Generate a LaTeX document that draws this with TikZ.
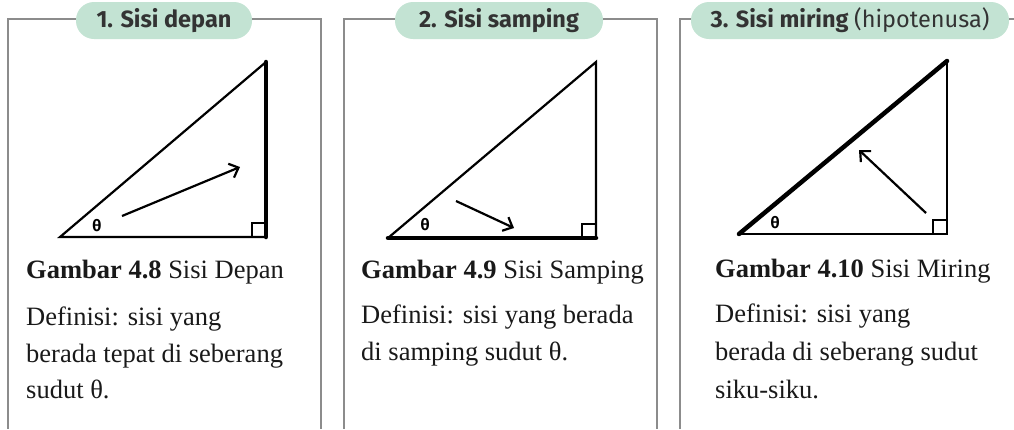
\documentclass[tikz,border=0pt]{standalone}
\usepackage{fontspec}
\setmainfont{Liberation Serif}
\newfontfamily\labelfont{Fira Sans}
\usetikzlibrary{arrows.meta}
\definecolor{pillgreen}{HTML}{C3E3D3}
\definecolor{framegray}{HTML}{8C8C8C}
\definecolor{labeltext}{HTML}{333333}
\tikzset{
  frameline/.style={draw=framegray, line width=1.5pt},
  pill/.style={fill=pillgreen, rounded corners=18pt, minimum height=37pt, inner sep=0pt, text=labeltext, font=\labelfont\bfseries\fontsize{23.5}{26}\selectfont},
  side/.style={line width=2.2pt, line join=miter},
  thickside/.style={line width=4.5pt, line cap=round},
  pointer/.style={line width=2.2pt, -{Straight Barb[length=8pt,width=15pt,line width=2.2pt]}},
  angle/.style={font=\labelfont\bfseries\fontsize{16}{16}\selectfont, inner sep=0pt},
  capline/.style={anchor=base west, inner sep=0pt, font=\fontsize{26.5}{30}\selectfont, text=black!90},
  sqr/.style={line width=1.6pt}
}
\begin{document}
\begin{tikzpicture}[x=1pt,y=-1pt]
\useasboundingbox (0,0) rectangle (1014,429);
% ---------- Panel 1 ----------
\node[pill, minimum width=176pt] (p1) at (164,20.5) {1. Sisi depan};
\coordinate (f1tl) at (8,19);
\coordinate (f1bl) at (8,429);
\coordinate (f1tr) at (321,19);
\coordinate (f1br) at (321,429);
\draw[frameline] (p1.west |- f1tl) -- (f1tl) -- (f1bl);
\draw[frameline] (p1.east |- f1tr) -- (f1tr) -- (f1br);
\coordinate (a1) at (60,237);
\coordinate (b1) at (266,237);
\coordinate (c1) at (266,62);
\draw[side] (b1) -- (a1) -- (c1);
\draw[thickside] (b1) -- (c1);
\draw[sqr] (252,237) -- (252,223) -- (266,223);
\node[angle] (t1) at (97,226) {θ};
\coordinate (s1) at (122,216);
\coordinate (e1) at (240,167);
\draw[pointer] (s1) -- (e1);
\node[capline] (g1) at (26,278) {\textbf{Gambar 4.8} Sisi Depan};
\node[capline] (d1a) at (26,325) {Definisi: sisi yang};
\node[capline] (d1b) at (26,362) {berada tepat di seberang};
\node[capline] (d1c) at (26,398) {sudut θ.};
% ---------- Panel 2 ----------
\node[pill, minimum width=208pt] (p2) at (499,20.5) {2. Sisi samping};
\coordinate (f2tl) at (344,19);
\coordinate (f2bl) at (344,429);
\coordinate (f2tr) at (657,19);
\coordinate (f2br) at (657,429);
\draw[frameline] (p2.west |- f2tl) -- (f2tl) -- (f2bl);
\draw[frameline] (p2.east |- f2tr) -- (f2tr) -- (f2br);
\coordinate (a2) at (388,238);
\coordinate (b2) at (596,238);
\coordinate (c2) at (596,62);
\draw[side] (a2) -- (c2) -- (b2);
\draw[thickside] (a2) -- (b2);
\draw[sqr] (582,238) -- (582,224) -- (596,224);
\node[angle] (t2) at (425,225) {θ};
\coordinate (s2) at (456,201);
\coordinate (e2) at (514,228);
\draw[pointer] (s2) -- (e2);
\node[capline] (g2) at (361,278) {\textbf{Gambar 4.9} Sisi Samping};
\node[capline] (d2a) at (361,323) {Definisi: sisi yang berada};
\node[capline] (d2b) at (361,360) {di samping sudut θ.};
% ---------- Panel 3 ----------
\node[pill, minimum width=318pt] (p3) at (850,20.5) {3. Sisi miring {\mdseries(hipotenusa)}};
\coordinate (f3tl) at (680,19);
\coordinate (f3bl) at (680,429);
\coordinate (f3tr) at (1014,19);
\draw[frameline] (p3.west |- f3tl) -- (f3tl) -- (f3bl);
\draw[frameline] (p3.east |- f3tr) -- (f3tr);
\coordinate (a3) at (739,234);
\coordinate (b3) at (947,234);
\coordinate (c3) at (947,61);
\draw[side] (a3) -- (b3) -- (c3);
\draw[thickside] (a3) -- (c3);
\draw[sqr] (933,234) -- (933,220) -- (947,220);
\node[angle] (t3) at (775,223) {θ};
\coordinate (s3) at (926,213);
\coordinate (e3) at (859,150);
\draw[pointer] (s3) -- (e3);
\node[capline] (g3) at (715,277) {\textbf{Gambar 4.10} Sisi Miring};
\node[capline] (d3a) at (715,322) {Definisi: sisi yang};
\node[capline] (d3b) at (715,360) {berada di seberang sudut};
\node[capline] (d3c) at (715,398) {siku-siku.};
\end{tikzpicture}
\end{document}
